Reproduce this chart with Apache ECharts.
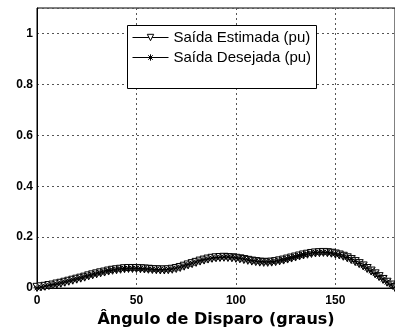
<!DOCTYPE html>
<html><head><meta charset="utf-8">
<script src="https://cdn.jsdelivr.net/npm/echarts@6/dist/echarts.min.js"></script>
<style>html,body{margin:0;padding:0;background:#fff}#c{width:395px;height:333px}</style>
</head><body><div id="c"></div>
<script>
var angles = [0,2,4,6,8,10,12,14,16,18,20,22,24,26,28,30,32,34,36,38,40,42,44,46,48,50,52,54,56,58,60,62,64,66,68,70,72,74,76,78,80,82,84,86,88,90,92,94,96,98,100,102,104,106,108,110,112,114,116,118,120,122,124,126,128,130,132,134,136,138,140,142,144,146,148,150,152,154,156,158,160,162,164,166,168,170,172,174,176,178,180];
var estimada = [0.003,0.005,0.007,0.010,0.012,0.016,0.019,0.023,0.027,0.031,0.035,0.039,0.043,0.048,0.052,0.056,0.060,0.063,0.067,0.070,0.072,0.074,0.076,0.077,0.077,0.077,0.076,0.075,0.074,0.073,0.072,0.071,0.071,0.072,0.074,0.077,0.081,0.086,0.091,0.096,0.101,0.106,0.110,0.114,0.117,0.119,0.120,0.121,0.120,0.119,0.117,0.115,0.112,0.109,0.106,0.104,0.102,0.101,0.101,0.102,0.104,0.107,0.110,0.114,0.118,0.122,0.126,0.130,0.133,0.136,0.138,0.139,0.140,0.139,0.137,0.134,0.130,0.125,0.119,0.112,0.104,0.096,0.087,0.077,0.067,0.056,0.045,0.034,0.023,0.012,0.002];
var desejada = [0.001,0.004,0.008,0.011,0.014,0.017,0.021,0.025,0.029,0.033,0.037,0.041,0.046,0.050,0.054,0.058,0.062,0.066,0.069,0.072,0.074,0.076,0.077,0.078,0.078,0.078,0.077,0.076,0.075,0.074,0.073,0.073,0.073,0.074,0.076,0.079,0.083,0.088,0.093,0.098,0.103,0.108,0.112,0.115,0.118,0.120,0.121,0.122,0.122,0.121,0.119,0.117,0.114,0.111,0.108,0.106,0.104,0.103,0.103,0.104,0.106,0.109,0.112,0.116,0.120,0.124,0.128,0.132,0.135,0.138,0.140,0.141,0.141,0.140,0.138,0.135,0.131,0.126,0.120,0.113,0.105,0.097,0.088,0.078,0.068,0.057,0.046,0.035,0.024,0.013,0.003];
var yTicks = [0, 0.2, 0.4, 0.6, 0.8, 1];
var xTicks = [0, 50, 100, 150];
var nameEst = 'Saída Estimada (pu)';
var nameDes = 'Saída Desejada (pu)';

function pairs(xs, ys){ return xs.map(function(x,i){ return [x, ys[i]]; }); }
var star = 'path://M5,0L5,10M0,5L10,5M1.5,1.5L8.5,8.5M8.5,1.5L1.5,8.5';

var chart = echarts.init(document.getElementById('c'), null, {renderer:'canvas'});
chart.setOption({
  animation: false,
  backgroundColor: '#fff',
  grid: {left: 37, top: 8, width: 367, height: 285, show: true, borderColor: '#000', borderWidth: 1, backgroundColor: 'transparent'},
  xAxis: {
    type: 'value', min: 0, max: 180, interval: 50,
    axisLine: {show: true, onZero: false, lineStyle: {color: '#000', width: 1}},
    axisTick: {show: false},
    axisLabel: {color: '#000', fontFamily: 'Liberation Sans, Arial', fontWeight: 'bold', fontSize: 12, margin: 7, showMaxLabel: false,
      formatter: function(v){ return xTicks.indexOf(v) >= 0 ? String(v) : ''; }},
    splitLine: {show: true, lineStyle: {color: '#555', type: [2, 3], width: 1}},
    name: 'Ângulo de Disparo (graus)', nameLocation: 'middle', nameGap: 23,
    nameTextStyle: {color: '#000', fontFamily: 'DejaVu Sans', fontWeight: 'bold', fontSize: 16}
  },
  yAxis: {
    type: 'value', min: 0, max: 1.1, interval: 0.2,
    axisLine: {show: true, lineStyle: {color: '#000', width: 1}},
    axisTick: {show: false},
    axisLabel: {color: '#000', fontFamily: 'Liberation Sans, Arial', fontWeight: 'bold', fontSize: 12, margin: 4, showMaxLabel: false,
      formatter: function(v){ var r = Math.round(v*10)/10; return yTicks.indexOf(r) >= 0 ? String(r) : ''; }},
    splitLine: {show: true, lineStyle: {color: '#555', type: [2, 3], width: 1}}
  },
  graphic: [{type: 'rect', z: 50, shape: {x: 127.5, y: 25.5, width: 189, height: 63}, style: {fill: '#fff', stroke: '#000', lineWidth: 1}}],
  legend: {
    z: 60, orient: 'vertical', left: 132, top: 30, itemWidth: 36, itemHeight: 8, itemGap: 5, itemGap: 5, padding: 0,
    lineStyle: {width: 1}, itemStyle: {borderWidth: 1},
    textStyle: {color: '#000', fontFamily: 'Liberation Sans, Arial', fontSize: 15},
    data: [nameEst, nameDes]
  },
  series: [
    {name: nameEst, type: 'line', data: pairs(angles, estimada), symbol: 'triangle', symbolRotate: 180, symbolSize: 8,
      showAllSymbol: true, lineStyle: {color: '#000', width: 1}, itemStyle: {color: '#fff', borderColor: '#000', borderWidth: 1}},
    {name: nameDes, type: 'line', data: pairs(angles, desejada), symbol: star, symbolSize: 7,
      showAllSymbol: true, lineStyle: {color: '#000', width: 1}, itemStyle: {color: '#000', borderColor: '#000', borderWidth: 1}}
  ]
});
</script></body></html>
